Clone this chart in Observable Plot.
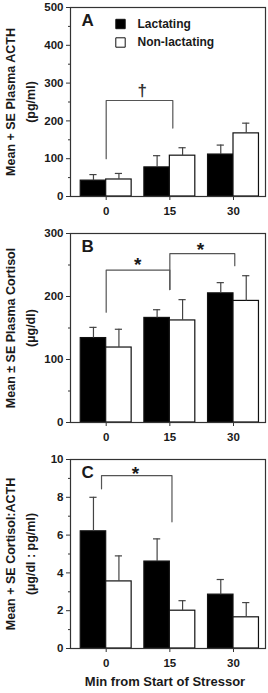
<!DOCTYPE html>
<html>
<head>
<meta charset="utf-8">
<script src="https://cdn.jsdelivr.net/npm/d3@7"></script>
<script src="https://cdn.jsdelivr.net/npm/@observablehq/plot@0.6"></script>
<style>
  html, body { margin: 0; padding: 0; background: #fff; }
  #chart { position: relative; width: 268px; height: 693px; overflow: hidden; }
  #chart > div { position: absolute; left: 0; }
  svg { overflow: visible; }
</style>
</head>
<body>
<div id="chart"></div>
<script>
// Minutes after the stressor began
const minutes = [0, 15, 30];
const groups = ["Lactating", "Non-lactating"];

// Panel A: plasma ACTH (pg/ml)
const acthLact = [42, 77, 111];
const acthLactSE = [16, 31, 25];
const acthNon = [45, 108, 167];
const acthNonSE = [16, 21, 27];

// Panel B: plasma cortisol (µg/dl)
const cortLact = [134, 166, 205];
const cortLactSE = [17, 13, 17];
const cortNon = [119, 162, 193];
const cortNonSE = [29, 33, 40];

// Panel C: cortisol:ACTH ratio
const ratioLact = [6.2, 4.6, 2.85];
const ratioLactSE = [1.8, 1.2, 0.8];
const ratioNon = [3.55, 2.0, 1.65];
const ratioNonSE = [1.35, 0.53, 0.78];

// Significance brackets (x in minutes, y in panel units)
const bracketA = [[0, 100], [0, 254], [15.7, 254], [15.7, 181]];
const bracketB1 = [[0, 175], [0, 242], [15, 242], [15, 211]];
const bracketB2 = [[15, 211], [15, 268], [30.3, 268], [30.3, 249]];
const bracketC = [[-1.1, 8.45], [-1.1, 9.15], [15.5, 9.15], [15.5, 6.7]];

const FONT = "'Liberation Sans', Arial, Helvetica, sans-serif";
const INK = "#1a1a1a";
const HALF = 6;   // bar width in minutes
const CAP = 0.85; // error cap half-width in minutes

function rows(lact, lactSE, non, nonSE) {
  const out = [];
  minutes.forEach((m, i) => {
    out.push({group: groups[0], m, x1: m - HALF, x2: m, xc: m - HALF / 2, y: lact[i], top: lact[i] + lactSE[i]});
    out.push({group: groups[1], m, x1: m, x2: m + HALF, xc: m + HALF / 2, y: non[i], top: non[i] + nonSE[i]});
  });
  return out;
}

function panel(cfg) {
  const {top, height, marginTop, marginBottom, yMax, major, minor, letter, label1, label2, brackets, marks = [], extra = []} = cfg;
  const data = rows(...cfg.series);
  const plot = Plot.plot({
    width: 268,
    height,
    marginLeft: 70,
    marginRight: 3,
    marginTop,
    marginBottom,
    style: {fontFamily: FONT, fontWeight: "bold", fontSize: "11px", color: INK, background: "transparent"},
    x: {domain: [-8.41, 37.54]},
    y: {domain: [0, yMax]},
    marks: [
      Plot.axisY({ticks: major, tickSize: 4, tickPadding: 3, stroke: "#333", fontSize: 11.5, fontWeight: "bold", label: null}),
      Plot.axisY({ticks: minor, tickSize: 2, tickFormat: () => "", stroke: "#333", label: null}),
      Plot.axisX({ticks: minutes, tickSize: 4, tickPadding: 6, stroke: "#333", fontSize: 11.5, fontWeight: "bold", label: null}),
      Plot.rect(data, {x1: "x1", x2: "x2", y1: 0, y2: "y", fill: d => d.group === groups[0] ? "#000" : "#fff", stroke: "#111", strokeWidth: 1.2}),
      Plot.ruleX(data, {x: "xc", y1: "y", y2: "top", stroke: "#444", strokeWidth: 1.2}),
      Plot.ruleY(data, {y: "top", x1: d => d.xc - CAP, x2: d => d.xc + CAP, stroke: "#444", strokeWidth: 1.2}),
      ...brackets.map(b => Plot.line(b, {x: d => d[0], y: d => d[1], stroke: "#555", strokeWidth: 1.2})),
      ...marks,
      Plot.frame({stroke: "#333", strokeWidth: 1.2}),
      Plot.text([letter], {frameAnchor: "top-left", dx: 11, dy: 6, fontSize: 17, fontWeight: "bold", fill: INK, textAnchor: "start"}),
      Plot.text([label1], {frameAnchor: "left", dx: -60, rotate: -90, textAnchor: "middle", lineAnchor: "middle", fontSize: 12.5, fontWeight: "bold", fill: INK}),
      Plot.text([label2], {frameAnchor: "left", dx: -40, rotate: -90, textAnchor: "middle", lineAnchor: "middle", fontSize: 12.5, fontWeight: "bold", fill: INK}),
      ...extra
    ]
  });
  const wrap = document.createElement("div");
  wrap.style.top = top + "px";
  wrap.appendChild(plot);
  document.getElementById("chart").appendChild(wrap);
}

// Legend entries: a swatch and a label per group, stacked in the top of panel A
const legend = groups.flatMap((g, i) => [
  Plot.dot([g], {frameAnchor: "top-left", dx: 50, dy: 16.5 + 18.5 * i, symbol: "square", r: 5.3,
    fill: i === 0 ? "#000" : "#fff", stroke: "#111", strokeWidth: 1}),
  Plot.text([g], {frameAnchor: "top-left", dx: 67, dy: 16.5 + 18.5 * i, textAnchor: "start", lineAnchor: "middle",
    fontSize: 12, fontWeight: "bold", fill: INK})
]);

// A: ACTH, with the legend
panel({
  top: 0, height: 226, marginTop: 7, marginBottom: 30,
  series: [acthLact, acthLactSE, acthNon, acthNonSE],
  yMax: 500, major: d3.range(0, 501, 100), minor: d3.range(50, 500, 100),
  letter: "A", label1: "Mean + SE Plasma ACTH", label2: "(pg/ml)",
  brackets: [bracketA],
  marks: [
    Plot.text(["†"], {x: 8.5, y: 285, dy: 2, fontSize: 17, fontWeight: "bold", fill: "#333"})
  ],
  extra: legend
});

// B: cortisol
panel({
  top: 226, height: 214, marginTop: 7, marginBottom: 18,
  series: [cortLact, cortLactSE, cortNon, cortNonSE],
  yMax: 300, major: d3.range(0, 301, 100), minor: d3.range(50, 300, 100),
  letter: "B", label1: "Mean ± SE Plasma Cortisol", label2: "(µg/dl)",
  brackets: [bracketB1, bracketB2],
  marks: [
    Plot.text(["*"], {x: 7.4, y: 258, dy: 5, fontSize: 19, fontWeight: "bold", fill: INK}),
    Plot.text(["*"], {x: 22.2, y: 282, dy: 5, fontSize: 19, fontWeight: "bold", fill: INK})
  ]
});

// C: cortisol:ACTH ratio, with the shared x title
panel({
  top: 450, height: 243, marginTop: 9, marginBottom: 45,
  series: [ratioLact, ratioLactSE, ratioNon, ratioNonSE],
  yMax: 10, major: d3.range(0, 11, 2), minor: d3.range(1, 10, 2),
  letter: "C", label1: "Mean + SE Cortisol:ACTH", label2: "(µg/dl : pg/ml)",
  brackets: [bracketC],
  marks: [
    Plot.text(["*"], {x: 6.9, y: 9.5, dy: 5, fontSize: 19, fontWeight: "bold", fill: INK})
  ],
  extra: [
    Plot.text(["Min from Start of Stressor"], {frameAnchor: "bottom", dx: -3, dy: 33, lineAnchor: "middle", fontSize: 13, fontWeight: "bold", fill: INK})
  ]
});
</script>
</body>
</html>
